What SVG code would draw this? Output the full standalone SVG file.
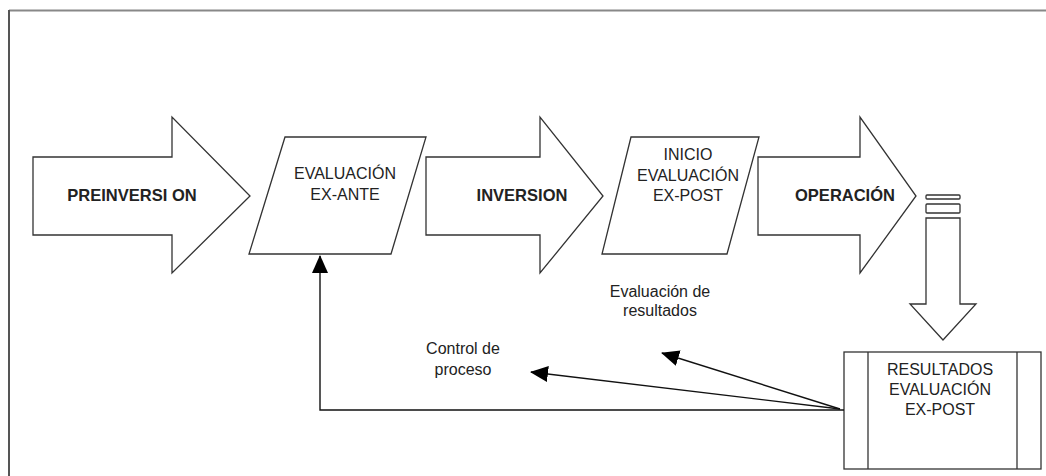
<svg xmlns="http://www.w3.org/2000/svg" width="1046" height="476" viewBox="0 0 1046 476">
<style>
.shape{fill:#fff;stroke:#333;stroke-width:1.3;stroke-linejoin:miter}
.lbl{font-family:"Liberation Sans",Arial,sans-serif;font-size:16px;fill:#222;text-anchor:middle}
.b{font-weight:bold;font-size:16.5px}
.sm{font-size:16px}
.conn{fill:none;stroke:#111;stroke-width:1.4}
</style>
<defs>
<marker id="ah" markerUnits="userSpaceOnUse" markerWidth="18" markerHeight="16" refX="17" refY="8" orient="auto">
<path d="M0,0 L18,8 L0,16 z" fill="#000"/>
</marker>
</defs>
<g id="frame">
<line x1="9" y1="10.5" x2="1046" y2="10.5" stroke="#888" stroke-width="2"/>
<line x1="9" y1="10" x2="9" y2="476" stroke="#555" stroke-width="2"/>
</g>
<g id="preinversion">
<path class="shape" d="M33,157 H172 V117 L250,196 L172,273 V235 H33 Z"/>
<text class="lbl b" x="132" y="201">PREINVERSI ON</text>
</g>
<g id="evaluacion-ex-ante">
<path class="shape" d="M285,137 H426 L391,254 H249 Z"/>
<text class="lbl" x="345" y="179">EVALUACIÓN</text>
<text class="lbl" x="345" y="200">EX-ANTE</text>
</g>
<g id="inversion">
<path class="shape" d="M426,157 H540 V117 L603,196 L540,273 V235 H426 Z"/>
<text class="lbl b" x="522" y="201">INVERSION</text>
</g>
<g id="inicio-evaluacion-ex-post">
<path class="shape" d="M631,137 H759 L727,254 H602 Z"/>
<text class="lbl" x="688" y="160">INICIO</text>
<text class="lbl" x="688" y="181">EVALUACIÓN</text>
<text class="lbl" x="688" y="201">EX-POST</text>
</g>
<g id="operacion">
<path class="shape" d="M758,157 H860 V117 L916,196 L860,273 V235 H758 Z"/>
<text class="lbl b" x="845" y="201">OPERACIÓN</text>
</g>
<g id="down-arrow">
<rect class="shape" x="926" y="195" width="34" height="4" rx="1"/>
<rect class="shape" x="926" y="204" width="34" height="9" rx="1"/>
<path class="shape" d="M926,218 H960 V304 H976 L943,340 L910,304 H926 Z"/>
</g>
<g id="resultados-evaluacion-ex-post">
<rect class="shape" x="844" y="352" width="197" height="117"/>
<line class="shape" x1="868" y1="352" x2="868" y2="469"/>
<line class="shape" x1="1017" y1="352" x2="1017" y2="469"/>
<text class="lbl" x="940" y="375">RESULTADOS</text>
<text class="lbl" x="940" y="395">EVALUACIÓN</text>
<text class="lbl" x="940" y="415">EX-POST</text>
</g>
<g id="labels">
<text class="lbl sm" x="660" y="297">Evaluación de</text>
<text class="lbl sm" x="660" y="316">resultados</text>
<text class="lbl sm" x="463" y="354">Control de</text>
<text class="lbl sm" x="463" y="375">proceso</text>
</g>
<g id="connectors">
<path class="conn" d="M844,410 H320 V256" marker-end="url(#ah)"/>
<line class="conn" x1="840" y1="409" x2="662" y2="353" marker-end="url(#ah)"/>
<line class="conn" x1="840" y1="409" x2="531" y2="372" marker-end="url(#ah)"/>
</g>
</svg>
